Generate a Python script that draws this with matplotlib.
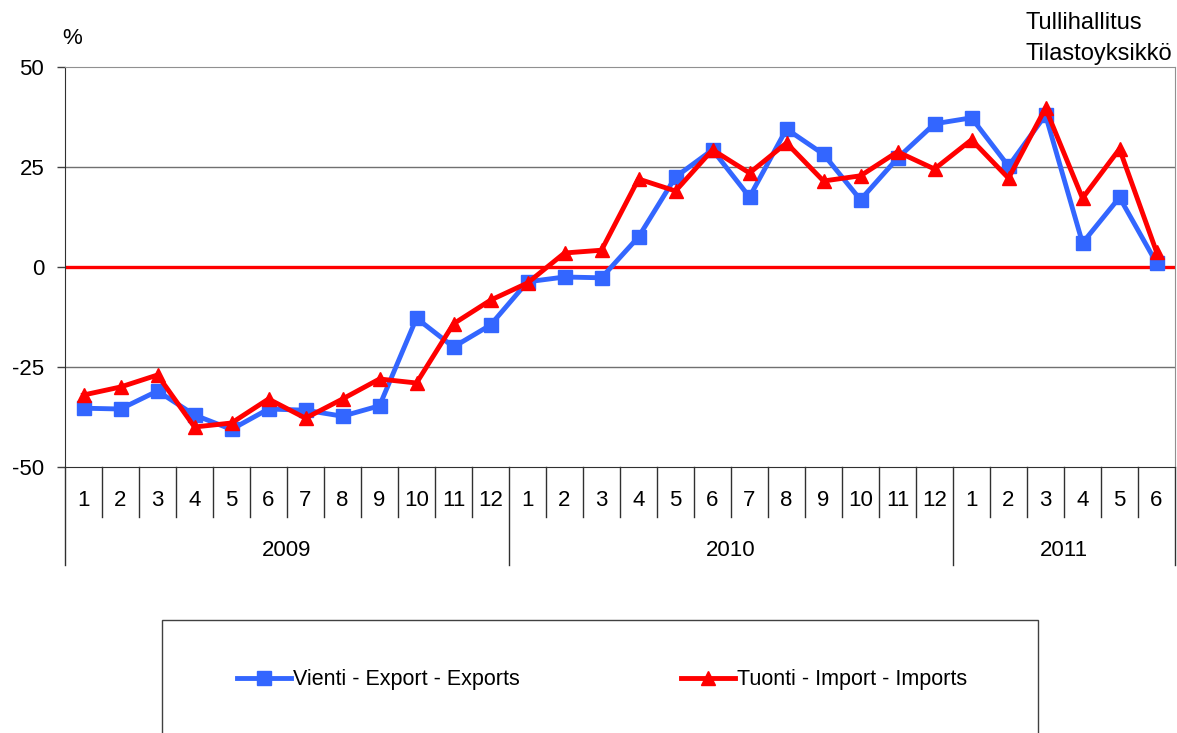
import matplotlib.pyplot as plt
from matplotlib.patches import Rectangle

plt.rcParams['font.family'] = ['Liberation Sans', 'DejaVu Sans']

# data
months = [1, 2, 3, 4, 5, 6, 7, 8, 9, 10, 11, 12,
          1, 2, 3, 4, 5, 6, 7, 8, 9, 10, 11, 12,
          1, 2, 3, 4, 5, 6]
years = ["2009", "2010", "2011"]
year_counts = [12, 12, 6]
exports = [-35.3, -35.5, -31.0, -37.0, -40.6, -35.5, -35.8, -37.3, -34.7, -12.8, -20.0, -14.5,
           -3.7, -2.5, -2.7, 7.5, 22.5, 29.3, 17.5, 34.5, 28.2, 16.8, 27.2, 35.8,
           37.3, 25.2, 38.0, 6.0, 17.4, 1.0]
imports = [-32.0, -30.0, -27.0, -40.0, -39.0, -33.0, -37.8, -33.0, -28.0, -29.0, -14.2, -8.3,
           -4.0, 3.5, 4.2, 22.0, 19.0, 29.3, 23.5, 31.0, 21.5, 22.8, 28.8, 24.5,
           31.8, 22.2, 39.7, 17.2, 29.5, 3.8]

W, H = 1177, 733
fig = plt.figure(figsize=(W / 100, H / 100), dpi=100)
L, R, T, B = 65, 1175, 67, 467
ax = fig.add_axes([L / W, 1 - B / H, (R - L) / W, (B - T) / H])

n = len(months)
x = list(range(n))
blue = '#3366FF'
red = '#FF0000'
fs = 16

ax.axhline(0, color=red, lw=2.4, zorder=2)
for g in [-25, 25]:
    ax.axhline(g, color='#707070', lw=1.0, zorder=1)

ax.plot(x, exports, color=blue, lw=3.5, marker='s', ms=10, zorder=3,
        label='Vienti - Export - Exports')
ax.plot(x, imports, color=red, lw=3.5, marker='^', ms=10, zorder=4,
        label='Tuonti - Import - Imports')

ax.set_xlim(-0.5, n - 0.5)
ax.set_ylim(-50, 50)
ax.set_yticks([-50, -25, 0, 25, 50])
ax.set_yticklabels(['-50', '-25', '0', '25', '50'], fontsize=fs)
ax.tick_params(axis='y', length=6, width=1, color='#404040', pad=9)
ax.set_xticks([])
ax.spines['top'].set_color('#909090')
ax.spines['right'].set_color('#909090')
ax.spines['left'].set_color('#303030')
ax.spines['bottom'].set_color('#303030')

# category axis (months / years)
tr = ax.get_xaxis_transform()
h_month = (517 - B) / (B - T)
h_year = (565 - B) / (B - T)
year_edges = [0]
for c in year_counts:
    year_edges.append(year_edges[-1] + c)
for i in range(n + 1):
    depth = h_year if i in year_edges else h_month
    ax.plot([i - 0.5, i - 0.5], [0, -depth], transform=tr, color='#303030',
            lw=1, clip_on=False)
for i, m in enumerate(months):
    ax.text(i, -(501 - B) / (B - T), str(m), transform=tr, ha='center',
            va='center', fontsize=fs)
for k, yr in enumerate(years):
    mid = (year_edges[k] + year_edges[k + 1] - 1) / 2
    ax.text(mid, -(550 - B) / (B - T), yr, transform=tr, ha='center',
            va='center', fontsize=fs)

fig.text(62 / W, 1 - 38 / H, '%', fontsize=fs, ha='left', va='center')
fig.text(1026 / W, 1 - 23 / H, 'Tullihallitus', fontsize=17, ha='left', va='center')
fig.text(1026 / W, 1 - 54 / H, 'Tilastoyksikkö', fontsize=17, ha='left', va='center')

# legend box
fig.patches.append(Rectangle((162 / W, 1 - 745 / H), (1038 - 162) / W, (745 - 620) / H,
                             transform=fig.transFigure, fill=False,
                             edgecolor='#404040', lw=1))
fig.legend(loc='center', bbox_to_anchor=(602 / W, 1 - 680 / H), ncol=2,
           frameon=False, fontsize=15.5, handlelength=2.5, handletextpad=0.08,
           columnspacing=7.5)

fig.savefig('out.png', dpi=100)
